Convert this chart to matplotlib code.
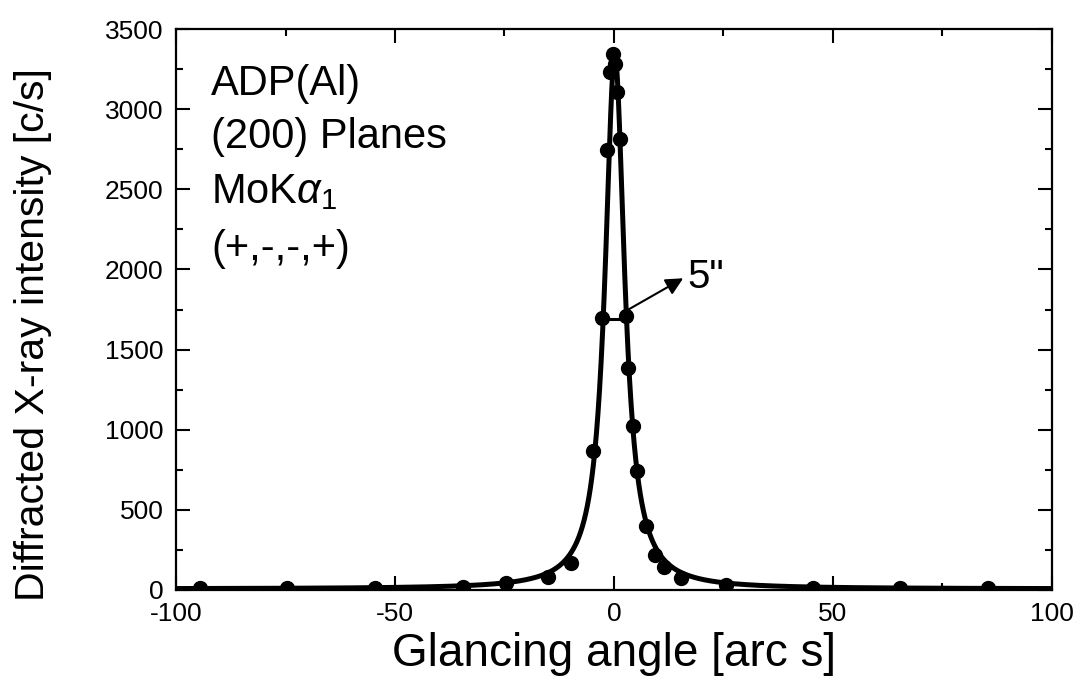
import numpy as np
import matplotlib
matplotlib.use("Agg")
import matplotlib.pyplot as plt
from matplotlib.ticker import MultipleLocator

plt.rcParams["font.family"] = ["Liberation Sans", "DejaVu Sans"]
plt.rcParams["mathtext.fontset"] = "custom"
plt.rcParams["mathtext.rm"] = "Liberation Sans"
plt.rcParams["mathtext.it"] = "Liberation Sans:italic"
plt.rcParams["axes.unicode_minus"] = False

angle = [-94.5, -74.7, -54.6, -34.5, -24.7, -15.1, -9.7, -4.7, -2.8, -1.7,
         -0.9, -0.15, 0.2, 0.75, 1.4, 2.7, 3.3, 4.4, 5.3, 7.3, 9.4, 11.4,
         15.4, 25.6, 45.5, 65.3, 85.4]
intensity = [10, 12, 12, 17, 44, 78, 167, 870, 1694, 2746,
             3233, 3345, 3281, 3108, 2812, 1712, 1385, 1021, 740, 400, 219, 142,
             77, 31, 10, 12, 10]

# parámetros del ajuste lorentziano (FWHM ~ 5")
PEAK = 3330
CENTER = 0.2
HWHM = 2.7
BACKGROUND = 6

x_ticks = [-100, -50, 0, 50, 100]
y_ticks = [0, 500, 1000, 1500, 2000, 2500, 3000, 3500]

fig = plt.figure(figsize=(10.8, 6.94), dpi=100)
ax = fig.add_axes([0.163, 0.150, 0.811, 0.808])

xf = np.linspace(-100, 100, 4001)
yf = BACKGROUND + PEAK / (1 + ((xf - CENTER) / HWHM) ** 2)
ax.plot(xf, yf, color="black", lw=3.6, zorder=2)
ax.plot(angle, intensity, "o", color="black", ms=10, zorder=3)

# marcador FWHM + flecha
half = BACKGROUND + PEAK / 2
ax.plot([CENTER - HWHM, CENTER + HWHM], [half + 20, half + 20], color="black", lw=2.2)
ax.annotate("", xy=(15.8, 1945), xytext=(3.3, 1750),
            arrowprops=dict(arrowstyle="-|>", color="black", lw=1.5,
                            mutation_scale=26, shrinkA=0, shrinkB=0))
ax.text(16.8, 1950, '5"', fontsize=29, va="center", ha="left")

# textos dentro del gráfico
for txt, yy in [("ADP(Al)", 3156), ("(200) Planes", 2825),
                (r"MoK$\alpha_1$", 2481), ("(+,-,-,+)", 2125)]:
    ax.text(-92, yy, txt, fontsize=30, va="center", ha="left")

ax.set_xlim(-100, 100)
ax.set_ylim(0, 3500)
ax.set_xticks(x_ticks)
ax.set_yticks(y_ticks)
ax.xaxis.set_minor_locator(MultipleLocator(25))
ax.yaxis.set_minor_locator(MultipleLocator(250))
ax.tick_params(which="both", direction="in", top=True, right=True, width=1.5)
ax.tick_params(which="major", length=10, labelsize=19, pad=9)
ax.tick_params(which="minor", length=5)
for s in ax.spines.values():
    s.set_linewidth(1.6)

ax.set_xlabel("Glancing angle [arc s]", fontsize=33, labelpad=4)
ax.set_ylabel("Diffracted X-ray intensity [c/s]", fontsize=29.5)
ax.yaxis.set_label_coords(-0.142, 0.455)

plt.savefig("out.png", dpi=100)
